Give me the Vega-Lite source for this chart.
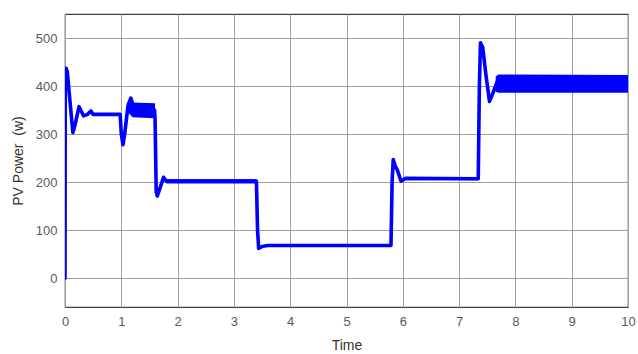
{
  "$schema": "https://vega.github.io/schema/vega-lite/v6.json",
  "width": 563,
  "height": 293,
  "autosize": "none",
  "padding": {"left": 65, "top": 14, "right": 10, "bottom": 47},
  "background": "white",
  "config": {
    "view": {"stroke": "#404040", "strokeWidth": 1.2},
    "axis": {
      "labelFont": "Liberation Sans",
      "titleFont": "Liberation Sans",
      "labelFontSize": 13,
      "titleFontSize": 14,
      "labelColor": "#5a5a5a",
      "titleColor": "#333333",
      "titleFontWeight": "normal",
      "gridColor": "#a0a0a0",
      "gridOpacity": 1,
      "gridWidth": 1,
      "domain": false,
      "ticks": false,
      "labelFlush": false
    }
  },
  "datasets": {
    "line": [
      {"t": 0, "p": 0},
      {"t": 0.005, "p": 420},
      {"t": 0.02, "p": 437},
      {"t": 0.04, "p": 430},
      {"t": 0.14, "p": 303},
      {"t": 0.18, "p": 320},
      {"t": 0.25, "p": 357},
      {"t": 0.3, "p": 345},
      {"t": 0.33, "p": 338},
      {"t": 0.4, "p": 341},
      {"t": 0.46, "p": 348},
      {"t": 0.5, "p": 341},
      {"t": 0.98, "p": 341},
      {"t": 1.0, "p": 300},
      {"t": 1.03, "p": 278},
      {"t": 1.06, "p": 300},
      {"t": 1.12, "p": 360},
      {"t": 1.17, "p": 375},
      {"t": 1.22, "p": 355},
      {"t": 1.3, "p": 350},
      {"t": 1.59, "p": 350},
      {"t": 1.6, "p": 330},
      {"t": 1.62, "p": 180},
      {"t": 1.64, "p": 171},
      {"t": 1.68, "p": 185},
      {"t": 1.75, "p": 210},
      {"t": 1.8, "p": 202},
      {"t": 3.4, "p": 202},
      {"t": 3.42, "p": 100},
      {"t": 3.44, "p": 62},
      {"t": 3.5, "p": 66},
      {"t": 3.6, "p": 68},
      {"t": 5.79, "p": 68},
      {"t": 5.81, "p": 200},
      {"t": 5.83, "p": 247},
      {"t": 5.87, "p": 232},
      {"t": 5.9, "p": 226},
      {"t": 5.94, "p": 212},
      {"t": 5.97, "p": 202},
      {"t": 6.05, "p": 208},
      {"t": 7.34, "p": 207},
      {"t": 7.36, "p": 400},
      {"t": 7.38, "p": 490},
      {"t": 7.42, "p": 480},
      {"t": 7.48, "p": 420},
      {"t": 7.54, "p": 368},
      {"t": 7.6, "p": 385},
      {"t": 7.68, "p": 410},
      {"t": 7.75, "p": 404},
      {"t": 10, "p": 404}
    ],
    "band": [
      {"seg": "a", "t": 1.12, "lo": 345, "hi": 365},
      {"seg": "a", "t": 1.2, "lo": 335, "hi": 366},
      {"seg": "a", "t": 1.6, "lo": 333, "hi": 364},
      {"seg": "b", "t": 1.8, "lo": 197, "hi": 206},
      {"seg": "b", "t": 3.4, "lo": 197, "hi": 206},
      {"seg": "c", "t": 6.05, "lo": 204, "hi": 210},
      {"seg": "c", "t": 7.34, "lo": 204, "hi": 210},
      {"seg": "d", "t": 7.65, "lo": 388, "hi": 420},
      {"seg": "d", "t": 7.7, "lo": 386, "hi": 424},
      {"seg": "d", "t": 10, "lo": 386, "hi": 423}
    ]
  },
  "encoding": {
    "x": {
      "field": "t",
      "type": "quantitative",
      "scale": {"domain": [0, 10], "nice": false},
      "axis": {"title": "Time", "values": [0,1,2,3,4,5,6,7,8,9,10], "labelPadding": 8, "titlePadding": 10, "grid": true}
    }
  },
  "layer": [
    {
      "data": {"name": "band"},
      "mark": {"type": "area", "color": "#0000ff", "opacity": 1},
      "encoding": {
        "detail": {"field": "seg"},
        "y": {
          "field": "lo",
          "type": "quantitative",
          "scale": {"domain": [-60, 550], "nice": false, "zero": false},
          "axis": {"title": "PV Power\u00a0 (w)", "values": [0,100,200,300,400,500], "labelPadding": 8, "titlePadding": 10, "grid": true}
        },
        "y2": {"field": "hi"}
      }
    },
    {
      "data": {"name": "line"},
      "mark": {"type": "line", "color": "#0000ff", "strokeWidth": 3.6, "strokeJoin": "round", "strokeCap": "round", "clip": true},
      "encoding": {
        "y": {"field": "p", "type": "quantitative"}
      }
    }
  ]
}
